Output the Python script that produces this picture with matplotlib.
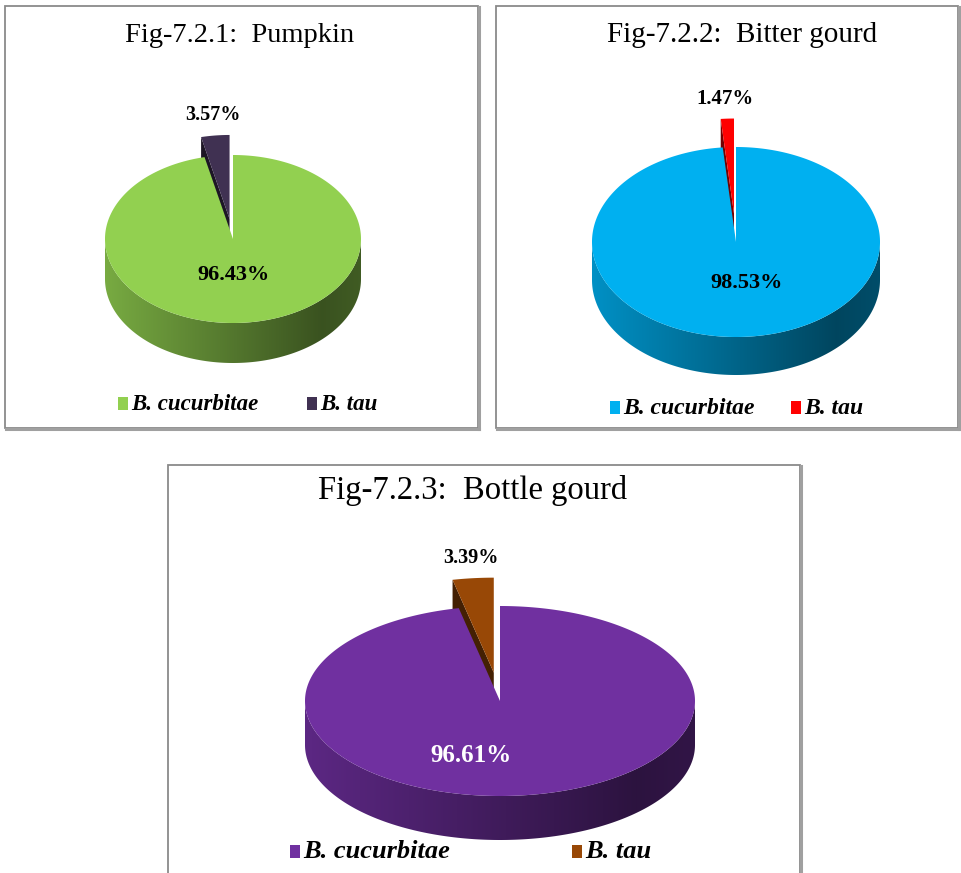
import numpy as np
import matplotlib.pyplot as plt
from matplotlib.patches import Polygon, Rectangle
from matplotlib.colors import to_rgb

plt.rcParams['font.family'] = ['Liberation Serif', 'DejaVu Serif']

species = ["B. cucurbitae", "B. tau"]
titles = ["Fig-7.2.1:  Pumpkin", "Fig-7.2.2:  Bitter gourd", "Fig-7.2.3:  Bottle gourd"]
pumpkin = [96.43, 3.57]
bitter_gourd = [98.53, 1.47]
bottle_gourd = [96.61, 3.39]
cucurbitae_colors = ["#92D050", "#00B0F0", "#7030A0"]
tau_colors = ["#403152", "#FF0000", "#984806"]

W, H = 961, 873
fig = plt.figure(figsize=(W / 100, H / 100), dpi=100)
ax = fig.add_axes([0, 0, 1, 1])

# layout of each panel in pixels
panels = [
    dict(frame=(5, 6, 478, 428), c=(233, 239), r=(128, 84), depth=40, explode=0.24,
         title_x=240, title_y=35, title_size=20.5,
         big_pos=(233, 275), big_size=16, big_color='black', small_size=14.5,
         legend_x=(118, 307), legend_y=404, legend_size=16.5),
    dict(frame=(496, 6, 958, 428), c=(736, 242), r=(144, 95), depth=38, explode=0.3,
         title_x=742, title_y=35, title_size=21,
         big_pos=(747, 283), big_size=16, big_color='black', small_size=15,
         legend_x=(610, 791), legend_y=408, legend_size=17),
    dict(frame=(168, 465, 800, 890), c=(500, 701), r=(195, 95), depth=44, explode=0.3,
         title_x=473, title_y=490, title_size=23.5,
         big_pos=(471, 755), big_size=18, big_color='white', small_size=14.5,
         legend_x=(290, 572), legend_y=852, legend_size=19),
]


def rim_points(cx, cy, a, b, theta):
    # clockwise angle from 12 o'clock, y grows downward
    t = np.radians(theta)
    return cx + a * np.sin(t), cy - b * np.cos(t)


def scaled(color, k):
    return tuple(np.clip(np.array(to_rgb(color)) * k, 0, 1))


def wall_gradient(color, n=256):
    t = np.linspace(0, 1, n)
    k = 0.82 - 0.5 * t + 0.12 * np.clip((t - 0.85) / 0.15, 0, 1)
    rgb = np.array(to_rgb(color))[None, :] * k[:, None]
    return np.clip(rgb[None, :, :], 0, 1)


def draw_pie(values, colors, p):
    cx, cy = p['c']
    a, b = p['r']
    d = p['depth']
    frac = np.array(values) / sum(values)
    edges = np.concatenate([[0], np.cumsum(frac) * 360])
    m0, m1 = edges[0], edges[1]
    s0, s1 = edges[1], edges[2]

    # pulled-out small slice
    mid = np.radians((s0 + s1) / 2)
    tx = cx + p['explode'] * a * np.sin(mid)
    ty = cy - p['explode'] * b * np.cos(mid)
    ex, ey = rim_points(tx, ty, a, b, s0)
    ax.add_patch(Polygon([(tx, ty), (ex, ey), (ex, ey + d), (tx, ty + d)],
                         closed=True, facecolor=scaled(colors[1], 0.45), edgecolor='none'))

    # front wall of the big slice
    lo, hi = max(m0, 90), min(m1, 270)
    th = np.linspace(lo, hi, 300)
    wx, wy = rim_points(cx, cy, a, b, th)
    wall = Polygon(np.column_stack([np.r_[wx, wx[::-1]], np.r_[wy, wy[::-1] + d]]),
                   closed=True, facecolor='none', edgecolor='none')
    ax.add_patch(wall)
    im = ax.imshow(wall_gradient(colors[0]), extent=(cx - a, cx + a, cy + b + d + 2, cy - 2),
                   aspect='auto', interpolation='bilinear')
    im.set_clip_path(wall)

    # top faces
    th = np.linspace(m0, m1, 500)
    x, y = rim_points(cx, cy, a, b, th)
    ax.add_patch(Polygon(np.column_stack([np.r_[cx, x], np.r_[cy, y]]),
                         closed=True, facecolor=colors[0], edgecolor='none'))
    th = np.linspace(s0, s1, 60)
    x, y = rim_points(tx, ty, a, b, th)
    ax.add_patch(Polygon(np.column_stack([np.r_[tx, x], np.r_[ty, y]]),
                         closed=True, facecolor=colors[1], edgecolor='none'))

    # value labels
    bx, by = p['big_pos']
    ax.text(bx, by, f"{values[0]:.2f}%", ha='center', va='center', fontweight='bold',
            fontsize=p['big_size'], color=p['big_color'])
    lx, ly = rim_points(tx, ty, a, b, np.degrees(mid))
    ax.text(lx - 2, ly - 20, f"{values[1]:.2f}%", ha='center', va='center', fontweight='bold',
            fontsize=p['small_size'], color='black')


for i, (vals, p) in enumerate(zip([pumpkin, bitter_gourd, bottle_gourd], panels)):
    x0, y0, x1, y1 = p['frame']
    ax.add_patch(Rectangle((x0, y0), x1 - x0, y1 - y0, facecolor='white',
                           edgecolor='#8a8a8a', lw=1.3, zorder=0))
    ax.plot([x0 + 1, x1 + 1], [y1 + 1, y1 + 1], color='#a0a0a0', lw=2.2, zorder=0)
    ax.plot([x1 + 1, x1 + 1], [y0 + 1, y1 + 1], color='#a0a0a0', lw=2.2, zorder=0)
    ax.text(p['title_x'], p['title_y'], titles[i], ha='center', va='center',
            fontsize=p['title_size'], color='black')
    draw_pie(vals, [cucurbitae_colors[i], tau_colors[i]], p)

    # legend
    for lx, name, col in zip(p['legend_x'], species, [cucurbitae_colors[i], tau_colors[i]]):
        ax.add_patch(Rectangle((lx, p['legend_y'] - 7), 10, 13, facecolor=col, edgecolor='none'))
        ax.text(lx + 13, p['legend_y'], name, ha='left', va='center', fontsize=p['legend_size'],
                fontweight='bold', fontstyle='italic', color='black')

ax.set_xlim(0, W)
ax.set_ylim(H, 0)
ax.axis('off')
fig.savefig('out.png', dpi=100, facecolor='white')
